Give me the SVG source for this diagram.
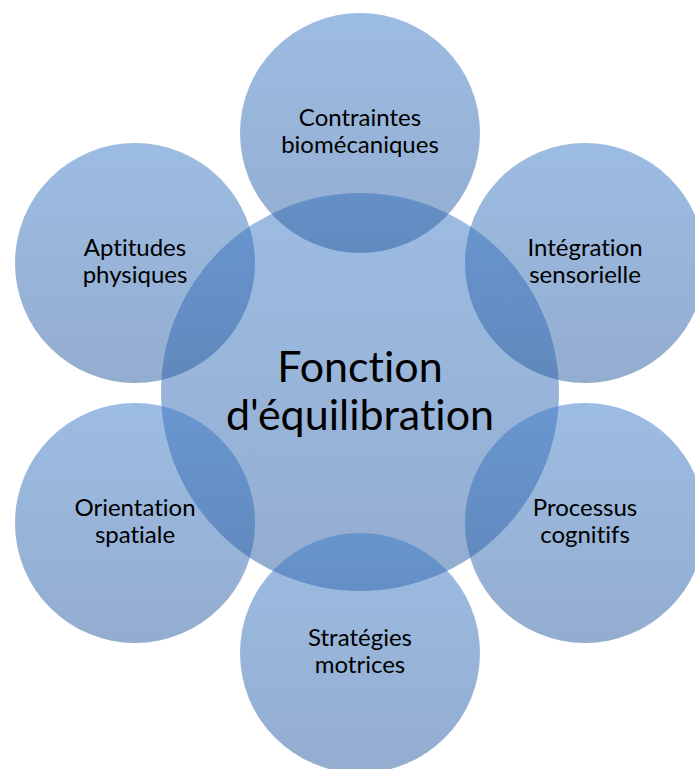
<svg xmlns="http://www.w3.org/2000/svg" width="695" height="769" viewBox="0 0 695 769">
  <defs>
    <!-- translucent blue fill, lighter at the top, greyer toward the bottom -->
    <linearGradient id="bubbleFill" x1="0" y1="0" x2="0" y2="1">
      <stop offset="0" stop-color="#3b79c7" stop-opacity="0.5"/>
      <stop offset="1" stop-color="#275b9f" stop-opacity="0.5"/>
    </linearGradient>
  </defs>
  <style>
    .bubble { fill: url(#bubbleFill); stroke: none; }
    .label, .title { font-family: "Lato", "Carlito", "Liberation Sans", sans-serif; fill: #000000; text-anchor: middle; font-variant-ligatures: none; }
    .label { font-size: 24px; }
    .title { font-size: 43px; }
  </style>
  <rect width="695" height="769" fill="#ffffff"/>

  <!-- hub -->
  <g id="node-equilibration">
    <circle class="bubble" cx="360" cy="392" r="199"/>
  </g>

  <!-- satellites, clockwise from the top -->
  <g id="node-contraintes">
    <circle class="bubble" cx="360" cy="133" r="120"/>
  </g>
  <g id="node-integration">
    <circle class="bubble" cx="585" cy="263" r="120"/>
  </g>
  <g id="node-processus">
    <circle class="bubble" cx="585" cy="523" r="120"/>
  </g>
  <g id="node-strategies">
    <circle class="bubble" cx="360" cy="653" r="120"/>
  </g>
  <g id="node-orientation">
    <circle class="bubble" cx="135" cy="523" r="120"/>
  </g>
  <g id="node-aptitudes">
    <circle class="bubble" cx="135" cy="263" r="120"/>
  </g>

  <!-- labels drawn above all fills -->
  <g id="labels">
    <text class="title" x="360" y="382">Fonction</text>
    <text class="title" x="360" y="430">d'équilibration</text>
    <text class="label" x="360" y="126">Contraintes</text>
    <text class="label" x="360" y="153">biomécaniques</text>
    <text class="label" x="585" y="256">Intégration</text>
    <text class="label" x="585" y="283">sensorielle</text>
    <text class="label" x="585" y="516">Processus</text>
    <text class="label" x="585" y="543">cognitifs</text>
    <text class="label" x="360" y="646">Stratégies</text>
    <text class="label" x="360" y="673">motrices</text>
    <text class="label" x="135" y="516">Orientation</text>
    <text class="label" x="135" y="543">spatiale</text>
    <text class="label" x="135" y="256">Aptitudes</text>
    <text class="label" x="135" y="283">physiques</text>
  </g>
</svg>
